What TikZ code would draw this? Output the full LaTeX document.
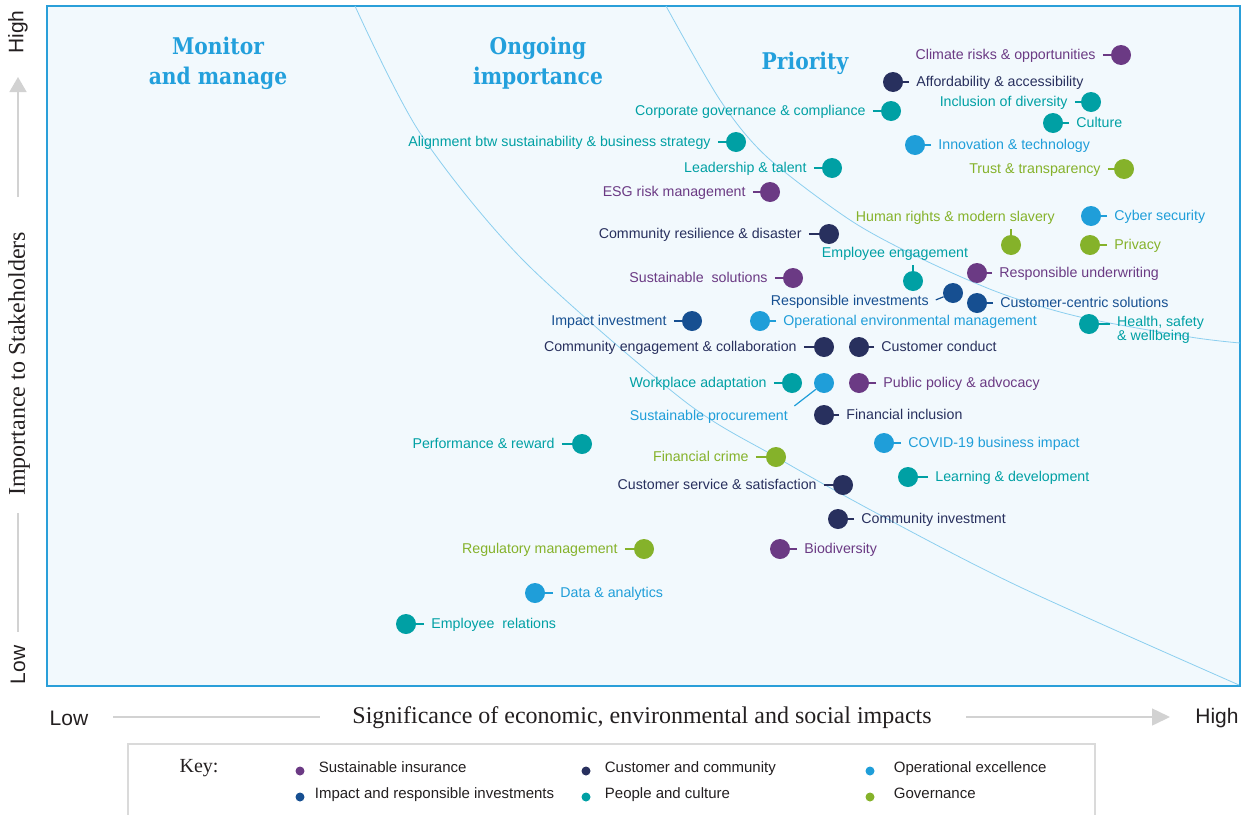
\documentclass[tikz,border=0pt]{standalone}
\usepackage{fontspec}
\setmainfont{Liberation Sans}
\newfontfamily\axfont{Liberation Serif}
\newfontfamily\slabfont[FakeStretch=0.88]{DejaVu Serif}
\usetikzlibrary{positioning,arrows.meta}
\definecolor{sinsur}{HTML}{6B3A84}
\definecolor{ccomm}{HTML}{28305E}
\definecolor{opex}{HTML}{1F9ED9}
\definecolor{irinv}{HTML}{164F91}
\definecolor{pcult}{HTML}{00A0A4}
\definecolor{gov}{HTML}{85B22A}
\definecolor{bgblue}{HTML}{F2F9FD}
\definecolor{frameblue}{HTML}{2A9FD9}
\definecolor{curveblue}{HTML}{8CCFEF}
\definecolor{ttlblue}{HTML}{23A0DC}
\definecolor{axgray}{HTML}{D2D2D2}
\definecolor{keygray}{HTML}{DADADA}
\definecolor{axtext}{HTML}{231F20}

\begin{document}
\begin{tikzpicture}[x=1pt,y=-1pt]
\tikzset{dot/.style={circle,fill=#1,minimum size=20pt,inner sep=0pt},
  lbl/.style={font=\fontsize{14.2}{14}\selectfont,text=#1,inner xsep=4pt,inner ysep=2pt},
  lab/.style={lbl=#1,text height=10pt,text depth=2pt},
  tk/.style={draw=#1,line width=1.2pt,shorten <=3pt},
  ttl/.style={font=\slabfont\bfseries\fontsize{23}{30}\selectfont,text=ttlblue,align=center},
  axs/.style={font=\fontsize{21}{21}\selectfont,text=axtext},
  axt/.style={font=\axfont\fontsize{24}{24}\selectfont,text=axtext},
  axln/.style={draw=axgray,line width=1.5pt},
  keyd/.style={circle,fill=#1,minimum size=9pt,inner sep=0pt},
  keyl/.style={font=\fontsize{15}{15}\selectfont,text=axtext,inner xsep=4pt,text height=10pt,text depth=2pt,yshift=3pt}}
\path[use as bounding box] (0,0) rectangle (1250,814);

% plot area and zone borders
\draw[fill=bgblue,draw=frameblue,line width=1.2pt] (47,6) rectangle (1240,686);
\draw[curveblue,line width=0.8pt] plot[smooth] coordinates {(355,6) (420,133) (523,260) (683,400) (776,457) (880,515) (1020,587) (1239,685)};
\draw[curveblue,line width=0.8pt] plot[smooth] coordinates {(666,6) (720,100) (767,157) (850,220) (920,258) (1000,293) (1080,317) (1190,337) (1240,343)};

\node[ttl] (mon) at (218,63) {Monitor\\and manage};
\node[ttl] (ongo) at (538,63) {Ongoing\\importance};
\node[ttl] (prio) at (805,63) {Priority};

% axes
\node[axs,rotate=90] (yhigh) at (18,32) {High};
\node[axs,rotate=90] (ylow) at (18,665) {Low};
\node[axt,rotate=90] (ytitle) at (19,364) {Importance to Stakeholders};
\coordinate (ya) at (18,197); \coordinate (yb) at (18,77);
\coordinate (yc) at (18,513); \coordinate (yd) at (18,632);
\draw[axln,-{Triangle[length=15pt,width=17pt]}] (ya) -- (yb);
\draw[axln] (yc) -- (yd);
\node[axs] (xlow) at (69,718) {Low};
\node[axs] (xhigh) at (1217,718) {High};
\node[axt] (xtitle) at (642,718) {Significance of economic, environmental and social impacts};
\coordinate (xa) at (113,717); \coordinate (xb) at (320,717);
\coordinate (xc) at (966,717); \coordinate (xd) at (1170,717);
\draw[axln] (xa) -- (xb);
\draw[axln,-{Triangle[length=18pt,width=17pt]}] (xc) -- (xd);

% topics
\node[dot=sinsur] (clim) at (1121,55) {};
\node[lab=sinsur,left=11pt of clim] (climt) {Climate risks \& opportunities};
\draw[tk=sinsur] (climt) -- (clim);
\node[dot=ccomm] (afford) at (893,82) {};
\node[lab=ccomm,right=9pt of afford] (affordt) {Affordability \& accessibility};
\draw[tk=ccomm] (affordt) -- (afford);
\node[dot=pcult] (corpgov) at (891,111) {};
\node[lab=pcult,left=11pt of corpgov] (corpgovt) {Corporate governance \& compliance};
\draw[tk=pcult] (corpgovt) -- (corpgov);
\node[dot=pcult] (divers) at (1091,102) {};
\node[lab=pcult,left=9pt of divers] (diverst) {Inclusion of diversity};
\draw[tk=pcult] (diverst) -- (divers);
\node[dot=pcult] (cult) at (1053,123) {};
\node[lab=pcult,right=9pt of cult] (cultt) {Culture};
\draw[tk=pcult] (cultt) -- (cult);
\node[dot=opex] (innov) at (915,145) {};
\node[lab=opex,right=9pt of innov] (innovt) {Innovation \& technology};
\draw[tk=opex] (innovt) -- (innov);
\node[dot=pcult] (align) at (736,142) {};
\node[lab=pcult,left=11pt of align] (alignt) {Alignment btw sustainability \& business strategy};
\draw[tk=pcult] (alignt) -- (align);
\node[dot=pcult] (lead) at (832,168) {};
\node[lab=pcult,left=11pt of lead] (leadt) {Leadership \& talent};
\draw[tk=pcult] (leadt) -- (lead);
\node[dot=gov] (trust) at (1124,169) {};
\node[lab=gov,left=9pt of trust] (trustt) {Trust \& transparency};
\draw[tk=gov] (trustt) -- (trust);
\node[dot=sinsur] (esg) at (770,192) {};
\node[lab=sinsur,left=10pt of esg] (esgt) {ESG risk management};
\draw[tk=sinsur] (esgt) -- (esg);
\node[dot=gov] (human) at (1011,245) {};
\node[lab=gov,anchor=south east] (humant) at (1059,226) {Human rights \& modern slavery};
\draw[tk=gov] (human.north |- humant.south) -- (human);
\node[dot=opex] (cyber) at (1091,216) {};
\node[lab=opex,right=9pt of cyber] (cybert) {Cyber security};
\draw[tk=opex] (cybert) -- (cyber);
\node[dot=gov] (priv) at (1090,245) {};
\node[lab=gov,right=10pt of priv] (privt) {Privacy};
\draw[tk=gov] (privt) -- (priv);
\node[dot=ccomm] (resil) at (829,234) {};
\node[lab=ccomm,left=13pt of resil] (resilt) {Community resilience \& disaster};
\draw[tk=ccomm] (resilt) -- (resil);
\node[dot=pcult] (engage) at (913,281) {};
\node[lab=pcult,anchor=south] (engaget) at (895,262) {Employee engagement};
\draw[tk=pcult] (engage.north |- engaget.south) -- (engage);
\node[dot=sinsur] (underw) at (977,273) {};
\node[lab=sinsur,right=8pt of underw] (underwt) {Responsible underwriting};
\draw[tk=sinsur] (underwt) -- (underw);
\node[dot=sinsur] (sustsol) at (793,278) {};
\node[lab=sinsur,left=11pt of sustsol] (sustsolt) {Sustainable\ \ solutions};
\draw[tk=sinsur] (sustsolt) -- (sustsol);
\node[dot=irinv] (respinv) at (953,293) {};
\node[lab=irinv,anchor=east] (respinvt) at (933,301) {Responsible investments};
\draw[tk=irinv] (respinvt.east) -- (respinv);
\node[dot=irinv] (custcen) at (977,303) {};
\node[lab=irinv,right=9pt of custcen] (custcent) {Customer-centric solutions};
\draw[tk=irinv] (custcent) -- (custcen);
\node[dot=irinv] (impinv) at (692,321) {};
\node[lab=irinv,left=11pt of impinv] (impinvt) {Impact investment};
\draw[tk=irinv] (impinvt) -- (impinv);
\node[dot=opex] (openv) at (760,321) {};
\node[lab=opex,right=9pt of openv] (openvt) {Operational environmental management};
\draw[tk=opex] (openvt) -- (openv);
\node[dot=pcult] (health) at (1089,324) {};
\node[lbl=pcult,align=left,anchor=west] (healtht) at (1113,330) {Health, safety\\\& wellbeing};
\draw[tk=pcult] (health -| healtht.west) -- (health);
\node[dot=ccomm] (commeng) at (824,347) {};
\node[lab=ccomm,left=13pt of commeng] (commengt) {Community engagement \& collaboration};
\draw[tk=ccomm] (commengt) -- (commeng);
\node[dot=ccomm] (conduct) at (859,347) {};
\node[lab=ccomm,right=8pt of conduct] (conductt) {Customer conduct};
\draw[tk=ccomm] (conductt) -- (conduct);
\node[dot=pcult] (workpl) at (792,383) {};
\node[lab=pcult,left=11pt of workpl] (workplt) {Workplace adaptation};
\draw[tk=pcult] (workplt) -- (workpl);
\node[dot=opex] (procur) at (824,383) {};
\node[lab=opex,anchor=east] (procurt) at (792,416) {Sustainable procurement};
\draw[tk=opex] (procurt.north east) -- (procur);
\node[dot=sinsur] (policy) at (859,383) {};
\node[lab=sinsur,right=10pt of policy] (policyt) {Public policy \& advocacy};
\draw[tk=sinsur] (policyt) -- (policy);
\node[dot=ccomm] (fininc) at (824,415) {};
\node[lab=ccomm,right=8pt of fininc] (fininct) {Financial inclusion};
\draw[tk=ccomm] (fininct) -- (fininc);
\node[dot=pcult] (perf) at (582,444) {};
\node[lab=pcult,left=13pt of perf] (perft) {Performance \& reward};
\draw[tk=pcult] (perft) -- (perf);
\node[dot=opex] (covid) at (884,443) {};
\node[lab=opex,right=10pt of covid] (covidt) {COVID-19 business impact};
\draw[tk=opex] (covidt) -- (covid);
\node[dot=gov] (fincrime) at (776,457) {};
\node[lab=gov,left=13pt of fincrime] (fincrimet) {Financial crime};
\draw[tk=gov] (fincrimet) -- (fincrime);
\node[dot=pcult] (learn) at (908,477) {};
\node[lab=pcult,right=13pt of learn] (learnt) {Learning \& development};
\draw[tk=pcult] (learnt) -- (learn);
\node[dot=ccomm] (custserv) at (843,485) {};
\node[lab=ccomm,left=12pt of custserv] (custservt) {Customer service \& satisfaction};
\draw[tk=ccomm] (custservt) -- (custserv);
\node[dot=ccomm] (comminv) at (838,519) {};
\node[lab=ccomm,right=9pt of comminv] (comminvt) {Community investment};
\draw[tk=ccomm] (comminvt) -- (comminv);
\node[dot=gov] (regul) at (644,549) {};
\node[lab=gov,left=12pt of regul] (regult) {Regulatory management};
\draw[tk=gov] (regult) -- (regul);
\node[dot=sinsur] (biodiv) at (780,549) {};
\node[lab=sinsur,right=10pt of biodiv] (biodivt) {Biodiversity};
\draw[tk=sinsur] (biodivt) -- (biodiv);
\node[dot=opex] (data) at (535,593) {};
\node[lab=opex,right=11pt of data] (datat) {Data \& analytics};
\draw[tk=opex] (datat) -- (data);
\node[dot=pcult] (emprel) at (406,624) {};
\node[lab=pcult,right=11pt of emprel] (emprelt) {Employee\ \ relations};
\draw[tk=pcult] (emprelt) -- (emprel);

% key
\draw[draw=keygray,line width=1.5pt] (128,820) -- (128,744) -- (1095,744) -- (1095,820);
\node[font=\axfont\fontsize{20}{20}\selectfont,text=axtext] (key) at (199,768) {Key:};
\node[keyd=sinsur] (k1) at (300,771) {};
\node[keyl,right=10pt of k1] (k1t) {Sustainable insurance};
\node[keyd=ccomm] (k2) at (586,771) {};
\node[keyl,right=10pt of k2] (k2t) {Customer and community};
\node[keyd=opex] (k3) at (870,771) {};
\node[keyl,right=15pt of k3] (k3t) {Operational excellence};
\node[keyd=irinv] (k4) at (300,797) {};
\node[keyl,right=6pt of k4] (k4t) {Impact and responsible investments};
\node[keyd=pcult] (k5) at (586,797) {};
\node[keyl,right=10pt of k5] (k5t) {People and culture};
\node[keyd=gov] (k6) at (870,797) {};
\node[keyl,right=15pt of k6] (k6t) {Governance};
\end{tikzpicture}
\end{document}
